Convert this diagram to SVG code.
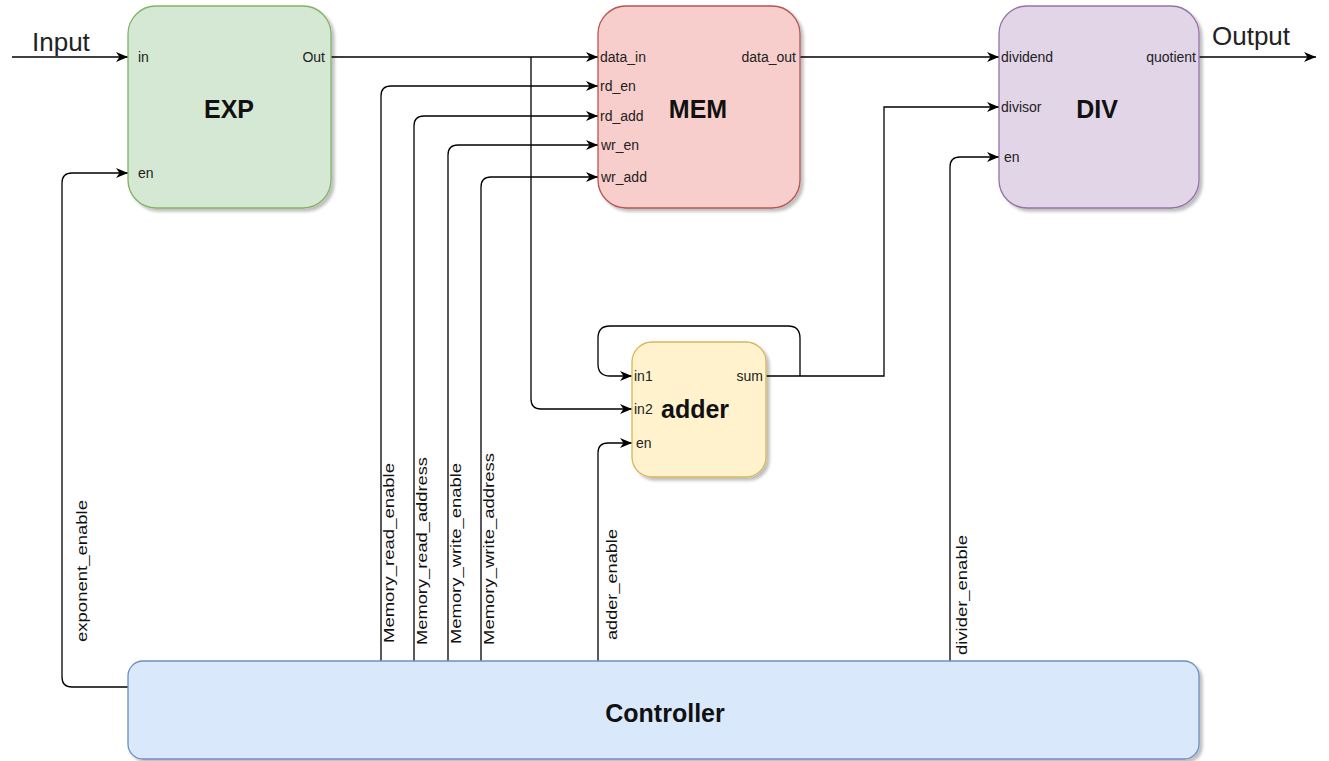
<svg xmlns="http://www.w3.org/2000/svg" width="1329" height="761" viewBox="0 0 1329 761">
<style>
  .conn { fill: none; stroke: #000; stroke-width: 1.3; }
  .port { font-family: "Liberation Sans", Arial, sans-serif; font-size: 14px; fill: #222; }
  .title { font-family: "Liberation Sans", Arial, sans-serif; font-size: 25px; font-weight: bold; fill: #111; }
  .io { font-family: "Liberation Sans", Arial, sans-serif; font-size: 26px; fill: #222; }
  .sig { font-family: "Liberation Sans", Arial, sans-serif; font-size: 15px; fill: #111; }
</style>
<defs>
  <marker id="arr" markerUnits="userSpaceOnUse" markerWidth="12" markerHeight="11" viewBox="0 0 12 11" refX="12" refY="5.5" orient="auto">
    <path d="M0,0.5 L12,5.5 L0,10.5 L3.5,5.5 Z" fill="#000"/>
  </marker>
  <filter id="sh" x="-10%" y="-10%" width="130%" height="130%">
    <feDropShadow dx="3" dy="3" stdDeviation="1.5" flood-color="#000" flood-opacity="0.25"/>
  </filter>
</defs>
<rect width="1329" height="761" fill="#fff"/>

<g id="connectors">
  <path class="conn" d="M12,57 H128" marker-end="url(#arr)"/>
  <path class="conn" d="M331,57 H598" marker-end="url(#arr)"/>
  <path class="conn" d="M531,57 V399 Q531,409 541,409 H632" marker-end="url(#arr)"/>
  <path class="conn" d="M381,661 V96 Q381,86 391,86 H598" marker-end="url(#arr)"/>
  <path class="conn" d="M414,661 V126 Q414,116 424,116 H598" marker-end="url(#arr)"/>
  <path class="conn" d="M448,661 V155 Q448,145 458,145 H598" marker-end="url(#arr)"/>
  <path class="conn" d="M481,661 V187 Q481,177 491,177 H598" marker-end="url(#arr)"/>
  <path class="conn" d="M800,57 H999" marker-end="url(#arr)"/>
  <path class="conn" d="M1199,57 H1316" marker-end="url(#arr)"/>
  <path class="conn" d="M766,376 H884 V107 H999" marker-end="url(#arr)"/>
  <path class="conn" d="M800,376 V338 Q800,326 788,326 H610 Q598,326 598,338 V364 Q598,376 610,376 H632" marker-end="url(#arr)"/>
  <path class="conn" d="M598,661 V453 Q598,443 608,443 H632" marker-end="url(#arr)"/>
  <path class="conn" d="M950,661 V167 Q950,157 960,157 H999" marker-end="url(#arr)"/>
  <path class="conn" d="M128,687 H72 Q62,687 62,677 V183 Q62,173 72,173 H128" marker-end="url(#arr)"/>

  <text class="io" x="32" y="51">Input</text>
  <text class="io" x="1212" y="45">Output</text>

  <text class="sig" transform="translate(87,642) rotate(-90)" textLength="142" lengthAdjust="spacingAndGlyphs">exponent_enable</text>
  <text class="sig" transform="translate(394,643) rotate(-90)" textLength="180" lengthAdjust="spacingAndGlyphs">Memory_read_enable</text>
  <text class="sig" transform="translate(427,645) rotate(-90)" textLength="188" lengthAdjust="spacingAndGlyphs">Memory_read_address</text>
  <text class="sig" transform="translate(461,644) rotate(-90)" textLength="181" lengthAdjust="spacingAndGlyphs">Memory_write_enable</text>
  <text class="sig" transform="translate(494,645) rotate(-90)" textLength="192" lengthAdjust="spacingAndGlyphs">Memory_write_address</text>
  <text class="sig" transform="translate(617,640) rotate(-90)" textLength="111" lengthAdjust="spacingAndGlyphs">adder_enable</text>
  <text class="sig" transform="translate(967,655) rotate(-90)" textLength="120" lengthAdjust="spacingAndGlyphs">divider_enable</text>
</g>

<g id="exp">
  <rect x="128" y="6" width="203" height="202" rx="28" fill="#d5e8d4" stroke="#82b366" stroke-width="1.3" filter="url(#sh)"/>
  <text class="title" x="229" y="118" text-anchor="middle">EXP</text>
  <text class="port" x="138" y="62">in</text>
  <text class="port" x="138" y="178">en</text>
  <text class="port" x="325" y="62" text-anchor="end">Out</text>
</g>

<g id="mem">
  <rect x="598" y="6" width="202" height="202" rx="28" fill="#f8cecc" stroke="#b85450" stroke-width="1.3" filter="url(#sh)"/>
  <text class="title" x="698" y="118" text-anchor="middle">MEM</text>
  <text class="port" x="600" y="62">data_in</text>
  <text class="port" x="600" y="91">rd_en</text>
  <text class="port" x="600" y="121">rd_add</text>
  <text class="port" x="601" y="150">wr_en</text>
  <text class="port" x="601" y="182">wr_add</text>
  <text class="port" x="796" y="62" text-anchor="end">data_out</text>
</g>

<g id="div">
  <rect x="999" y="6" width="200" height="202" rx="28" fill="#e1d5e7" stroke="#9673a6" stroke-width="1.3" filter="url(#sh)"/>
  <text class="title" x="1097" y="118" text-anchor="middle">DIV</text>
  <text class="port" x="1001" y="62">dividend</text>
  <text class="port" x="1001" y="112">divisor</text>
  <text class="port" x="1004" y="162">en</text>
  <text class="port" x="1196" y="62" text-anchor="end">quotient</text>
</g>

<g id="adder">
  <rect x="632" y="342" width="134" height="135" rx="20" fill="#fff2cc" stroke="#d6b656" stroke-width="1.3" filter="url(#sh)"/>
  <text class="title" x="661" y="418">adder</text>
  <text class="port" x="634" y="381">in1</text>
  <text class="port" x="634" y="414">in2</text>
  <text class="port" x="636" y="448">en</text>
  <text class="port" x="763" y="381" text-anchor="end">sum</text>
</g>

<g id="controller">
  <rect x="128" y="661" width="1071" height="98" rx="15" fill="#dae8fc" stroke="#6c8ebf" stroke-width="1.3" filter="url(#sh)"/>
  <text class="title" x="665" y="722" text-anchor="middle">Controller</text>
</g>
</svg>
